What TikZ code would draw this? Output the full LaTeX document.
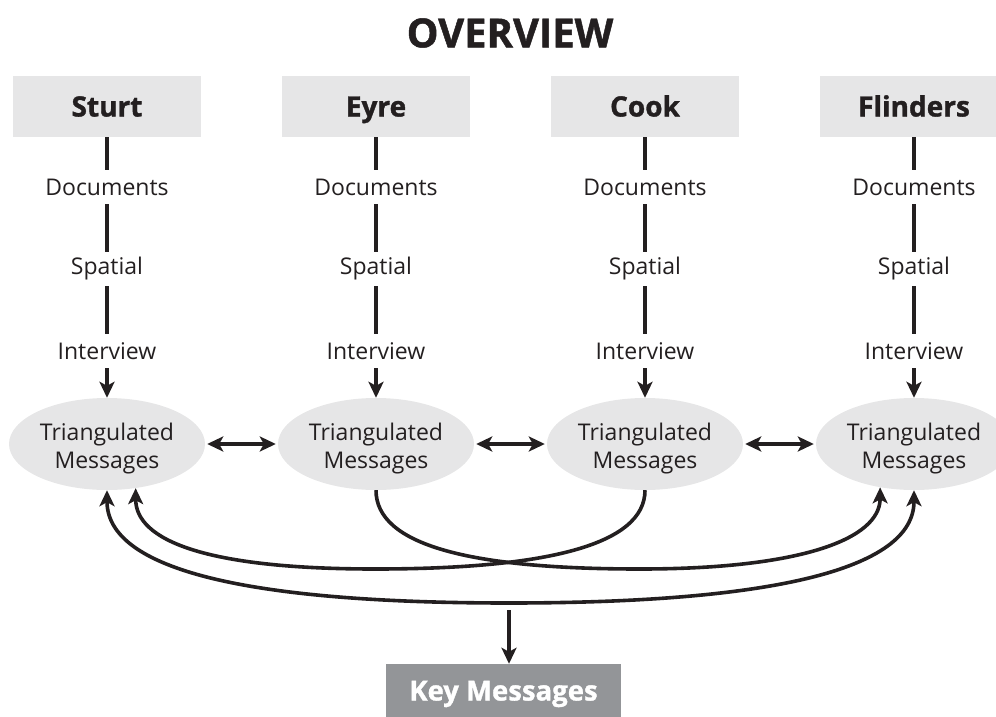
\documentclass[tikz,border=0pt]{standalone}
\usepackage{fontspec}
\setmainfont{Open Sans}
\usetikzlibrary{shapes.geometric,arrows.meta}
\definecolor{ink}{HTML}{231F20}
\definecolor{boxgray}{HTML}{E6E6E7}
\definecolor{keygray}{HTML}{939598}
\newcommand{\heavy}{\bfseries\addfontfeatures{FakeBold=1.2}}
\tikzset{
  headbox/.style={rectangle, fill=boxgray, minimum width=188pt, minimum height=61pt,
    font=\fontsize{28}{30}\selectfont\heavy, text=ink, inner sep=0pt,
    text height=20pt, text depth=0pt},
  stage/.style={rectangle, minimum height=34pt, inner sep=0pt,
    font=\fontsize{23}{27}\selectfont, text=ink},
  tri/.style={ellipse, fill=boxgray, minimum width=196pt, minimum height=92pt, inner sep=0pt,
    align=center, font=\fontsize{23}{28}\selectfont, text=ink, text height=55pt},
  keybox/.style={rectangle, fill=keygray, minimum width=235pt, minimum height=60pt, inner sep=0pt,
    font=\fontsize{27.5}{30}\selectfont\heavy, text=white},
  stem/.style={draw=ink, line width=4.5pt},
  tip/.style={-{Stealth[length=16pt,width=15pt,inset=4pt]}},
  twotip/.style={{Stealth[length=16pt,width=15pt,inset=4pt]}-{Stealth[length=16pt,width=15pt,inset=4pt]}},
  link/.style={draw=ink, line width=3.6pt},
}
\begin{document}
\begin{tikzpicture}[x=1pt,y=-1pt]
\clip (0,0) rectangle (996,717);

\node[font=\fontsize{40}{44}\selectfont\heavy, text=ink] (title) at (510,33) {OVERVIEW};

% four explorer columns
\foreach \i/\name/\x in {1/Sturt/107, 2/Eyre/376, 3/Cook/645, 4/Flinders/914} {
  \node[headbox] (h\i) at (\x,106.5) {\name};
  \node[stage] (d\i) at (\x,187) {Documents};
  \node[stage] (s\i) at (\x,269) {Spatial};
  \node[stage] (v\i) at (\x,351) {Interview};
  \node[tri] (e\i) at (\x,444) {Triangulated\\Messages};
  \draw[stem] (h\i) -- (d\i);
  \draw[stem] (d\i) -- (s\i);
  \draw[stem] (s\i) -- (v\i);
  \draw[stem,tip] (v\i) -- (e\i);
}

% links between neighbouring columns
\draw[stem,twotip,shorten <=2pt,shorten >=2pt] (e1) -- (e2);
\draw[stem,twotip,shorten <=2pt,shorten >=2pt] (e2) -- (e3);
\draw[stem,twotip,shorten <=2pt,shorten >=2pt] (e3) -- (e4);

% long cross links
\coordinate (lowA) at (640,569);
\coordinate (lowB) at (375,569);
\coordinate (lowC) at (509,603);
\draw[link,tip] (e2.south) .. controls +(0,55) and +(-170,0) .. (lowA)
  .. controls +(160,0) and +(0,52) .. (e4.-128);
\draw[link,tip] (e3.south) .. controls +(0,55) and +(170,0) .. (lowB)
  .. controls +(-170,0) and +(0,52) .. (e1.-57);
\draw[link,twotip] (e1.south) .. controls +(0,80) and +(-260,0) .. (lowC)
  .. controls +(260,0) and +(0,80) .. (e4.south);

% summary
\node[keybox] (key) at (503.5,694) {Key Messages};
\coordinate (kstart) at (509,610);
\draw[stem,tip] (kstart) -- (kstart |- key.north);
\end{tikzpicture}
\end{document}
